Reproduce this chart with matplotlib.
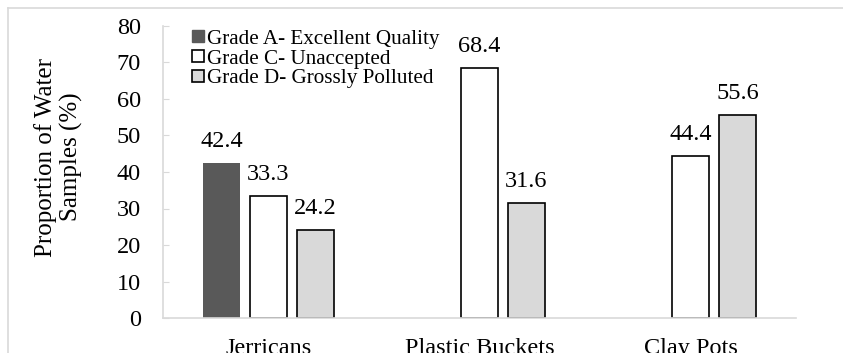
import numpy as np
import matplotlib
matplotlib.use("Agg")
import matplotlib.pyplot as plt
from matplotlib.lines import Line2D

plt.rcParams['font.family'] = ['Liberation Serif', 'DejaVu Serif']

# data
containers = ["Jerricans", "Plastic Buckets", "Clay Pots"]
grade_a = [42.4, 0, 0]
grade_c = [33.3, 68.4, 44.4]
grade_d = [24.2, 31.6, 55.6]
series_names = ["Grade A- Excellent Quality", "Grade C- Unaccepted", "Grade D- Grossly Polluted"]
yticks = [0, 10, 20, 30, 40, 50, 60, 70, 80]

fig = plt.figure(figsize=(8.43, 3.53), dpi=100)
ax = fig.add_axes([163/843, 1 - 318/353, (796 - 163)/843, (318 - 26)/353])

x = np.arange(len(containers))
w = 0.175
off = 0.223

bars_a = ax.bar(x - off, grade_a, w, color="#595959", edgecolor="none")
bars_c = ax.bar(x, grade_c, w, color="white", edgecolor="black", linewidth=1.2)
bars_d = ax.bar(x + off, grade_d, w, color="#d9d9d9", edgecolor="black", linewidth=1.2)

# value labels (skip empty bars)
for bars, vals in [(bars_a, grade_a), (bars_c, grade_c), (bars_d, grade_d)]:
    for b, v in zip(bars, vals):
        if v > 0:
            ax.annotate(f"{v:.1f}", (b.get_x() + b.get_width()/2, v),
                        xytext=(0, 11.5), textcoords="offset points",
                        ha="center", va="baseline", fontsize=17.5)

ax.set_xlim(-0.5, 2.5)
ax.set_ylim(0, 80)
ax.set_yticks(yticks)
ax.set_xticks(x)
ax.set_xticklabels(containers, fontsize=17.5)
ax.tick_params(axis="x", length=0, pad=14.5)
ax.tick_params(axis="y", labelsize=17.5, direction="in", length=4, color="#d9d9d9", pad=16)
ax.set_ylabel("Proportion of Water\nSamples (%)", fontsize=18, linespacing=1.2)
ax.yaxis.set_label_coords(-0.126, 0.551)

for s in ["top", "right"]:
    ax.spines[s].set_visible(False)
for s in ["left", "bottom"]:
    ax.spines[s].set_color("#d9d9d9")
    ax.spines[s].set_linewidth(1.2)

handles = [
    Line2D([], [], marker="s", linestyle="none", markersize=8, markerfacecolor="#595959", markeredgecolor="#595959"),
    Line2D([], [], marker="s", linestyle="none", markersize=8, markerfacecolor="white", markeredgecolor="black", markeredgewidth=1.2),
    Line2D([], [], marker="s", linestyle="none", markersize=8, markerfacecolor="#d9d9d9", markeredgecolor="black", markeredgewidth=1.2),
]
ax.legend(handles, series_names, loc="upper left", bbox_to_anchor=(192/843, 1 - 29/353),
          bbox_transform=fig.transFigure, frameon=False, fontsize=15.2,
          handlelength=0.6, handletextpad=0.1, labelspacing=0.0, borderaxespad=0, borderpad=0)

# chart area border (top and left visible)
fig.add_artist(Line2D([8/843, 1], [1 - 8/353, 1 - 8/353], transform=fig.transFigure, color="#d9d9d9", linewidth=1.2))
fig.add_artist(Line2D([8/843, 8/843], [0, 1 - 8/353], transform=fig.transFigure, color="#d9d9d9", linewidth=1.2))

fig.savefig("out.png", dpi=100)
